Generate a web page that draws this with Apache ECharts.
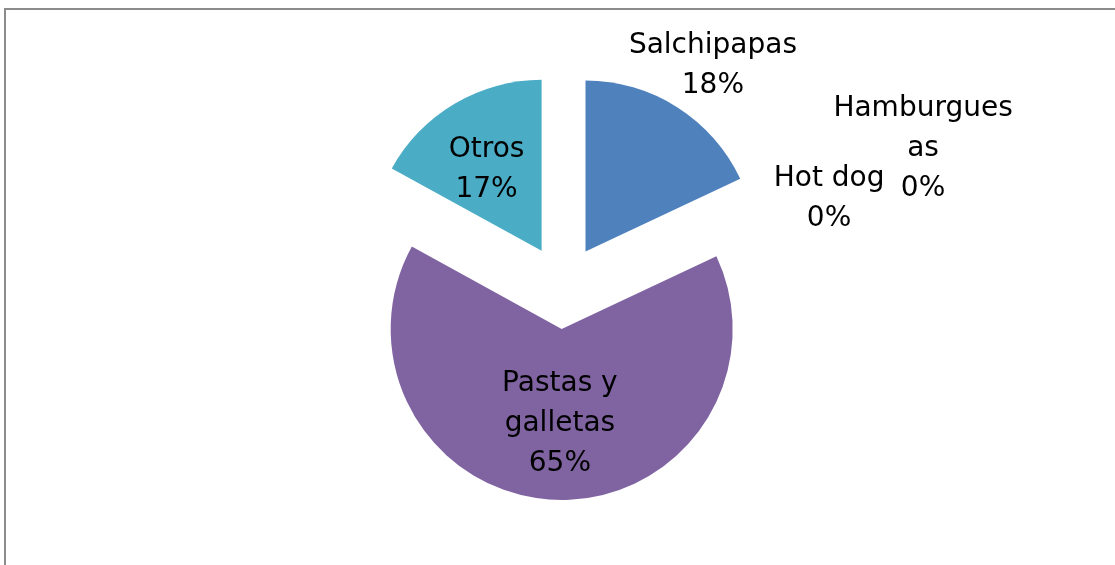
<!DOCTYPE html>
<html>
<head>
<meta charset="utf-8">
<script src="https://cdn.jsdelivr.net/npm/echarts@6/dist/echarts.min.js"></script>
<style>
  html, body { margin: 0; padding: 0; background: #fff; }
  #chart { width: 1115px; height: 565px; }
</style>
</head>
<body>
<div id="chart"></div>
<script>
// data, clockwise from 12 o'clock
const categories = ['Salchipapas', 'Hamburguesas', 'Hot dog', 'Pastas y galletas', 'Otros'];
const values = [18, 0, 0, 65, 17];
// how each label wraps in the original
const labelNames = ['Salchipapas', 'Hamburgues\nas', 'Hot dog', 'Pastas y\ngalletas', 'Otros'];

const colors = ['#4F81BD', '#C0504D', '#9BBB59', '#8064A2', '#4BACC6'];
// nudges from the default inside spot to where the original puts each label
const labelOffsets = [[80, -111], [242, -83], [148, -33], [1, 6], [-10, -5]];

const chart = echarts.init(document.getElementById('chart'), null, { renderer: 'canvas' });

const data = categories.map((name, i) => ({
  name,
  value: values[i],
  selected: true,
  itemStyle: { color: colors[i] }
}));

chart.setOption({
  animation: false,
  backgroundColor: '#fff',
  graphic: [{
    type: 'rect',
    silent: true,
    shape: { x: 5, y: 9, width: 1200, height: 700 },
    style: { fill: 'none', stroke: '#8c8c8c', lineWidth: 2 }
  }],
  series: [{
    type: 'pie',
    center: [563, 287],
    radius: 171,
    startAngle: 90,
    clockwise: true,
    avoidLabelOverlap: false,
    selectedMode: 'multiple',
    selectedOffset: 42,
    emphasis: { disabled: true },
    itemStyle: { borderWidth: 0 },
    label: {
      show: true,
      position: 'inside',
      rotate: 0,
      color: '#000',
      fontFamily: 'DejaVu Sans',
      fontSize: 28,
      lineHeight: 40,
      align: 'center',
      formatter: (p) => labelNames[p.dataIndex] + '\n' + Math.round(p.percent) + '%'
    },
    labelLine: { show: false },
    labelLayout: (p) => ({
      dx: labelOffsets[p.dataIndex][0],
      dy: labelOffsets[p.dataIndex][1],
      hideOverlap: false
    }),
    data
  }]
});
</script>
</body>
</html>
